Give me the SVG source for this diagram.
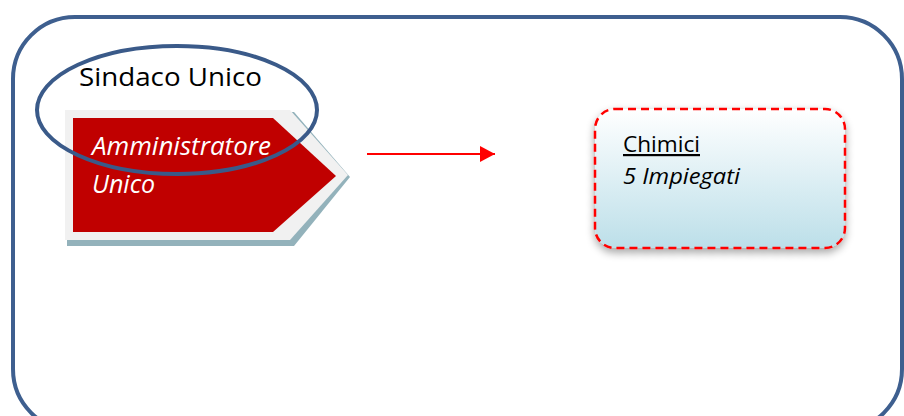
<svg xmlns="http://www.w3.org/2000/svg" width="904" height="416" viewBox="0 0 904 416">
<defs>
<linearGradient id="g1" x1="0" y1="0" x2="0" y2="1">
<stop offset="0" stop-color="#ffffff"/>
<stop offset="1" stop-color="#bcdfe9"/>
</linearGradient>
<filter id="sh" x="-20%" y="-20%" width="140%" height="150%">
<feGaussianBlur in="SourceAlpha" stdDeviation="4"/>
<feOffset dx="0" dy="4" result="b"/>
<feComponentTransfer><feFuncA type="linear" slope="0.35"/></feComponentTransfer>
<feMerge><feMergeNode/><feMergeNode in="SourceGraphic"/></feMerge>
</filter>
<marker id="ah" markerWidth="16" markerHeight="16" refX="15" refY="8" orient="auto" markerUnits="userSpaceOnUse">
<path d="M0,0 L15,8 L0,16 Z" fill="#ff0000"/>
</marker>
<style>
.t{font-family:"Open Sans","Noto Sans","DejaVu Sans",sans-serif;}
</style>
</defs>
<rect width="904" height="416" fill="#ffffff"/>
<rect id="frame" x="13" y="17" width="889" height="414" rx="62" ry="62" fill="none" stroke="#3e5f8f" stroke-width="4"/>
<g id="amministratore">
<path d="M67,112 L294,112 L350,177 L294,246 L67,246 Z" fill="#93b2bb"/>
<path d="M65,110 L290,110 L348,175 L290,240 L65,240 Z" fill="#f1f1f1"/>
<path d="M73,118 L273,118 L336,176 L273,232 L73,232 Z" fill="#c00000"/>
<text class="t" x="92" y="155" font-size="25" font-style="italic" fill="#ffffff" textLength="179" lengthAdjust="spacingAndGlyphs">Amministratore</text>
<text class="t" x="92" y="193" font-size="25" font-style="italic" fill="#ffffff">Unico</text>
</g>
<g id="sindaco">
<ellipse cx="177" cy="110" rx="140" ry="64" fill="none" stroke="#3a5a89" stroke-width="4"/>
<text class="t" x="79" y="86" font-size="26" fill="#000000" textLength="183" lengthAdjust="spacingAndGlyphs">Sindaco Unico</text>
</g>
<g id="connectors">
<line x1="367" y1="154" x2="495" y2="154" stroke="#ff0000" stroke-width="2" marker-end="url(#ah)"/>
</g>
<g id="chimici">
<rect x="595" y="109" width="250" height="139" rx="20" ry="20" fill="url(#g1)" stroke="#ff0000" stroke-width="2.5" stroke-dasharray="8,5" filter="url(#sh)"/>
<text class="t" x="623" y="152" font-size="22" fill="#000000" text-decoration="underline" textLength="77" lengthAdjust="spacingAndGlyphs">Chimici</text>
<text class="t" x="623" y="184" font-size="22" font-style="italic" fill="#000000" textLength="117" lengthAdjust="spacingAndGlyphs">5 Impiegati</text>
</g>
</svg>
